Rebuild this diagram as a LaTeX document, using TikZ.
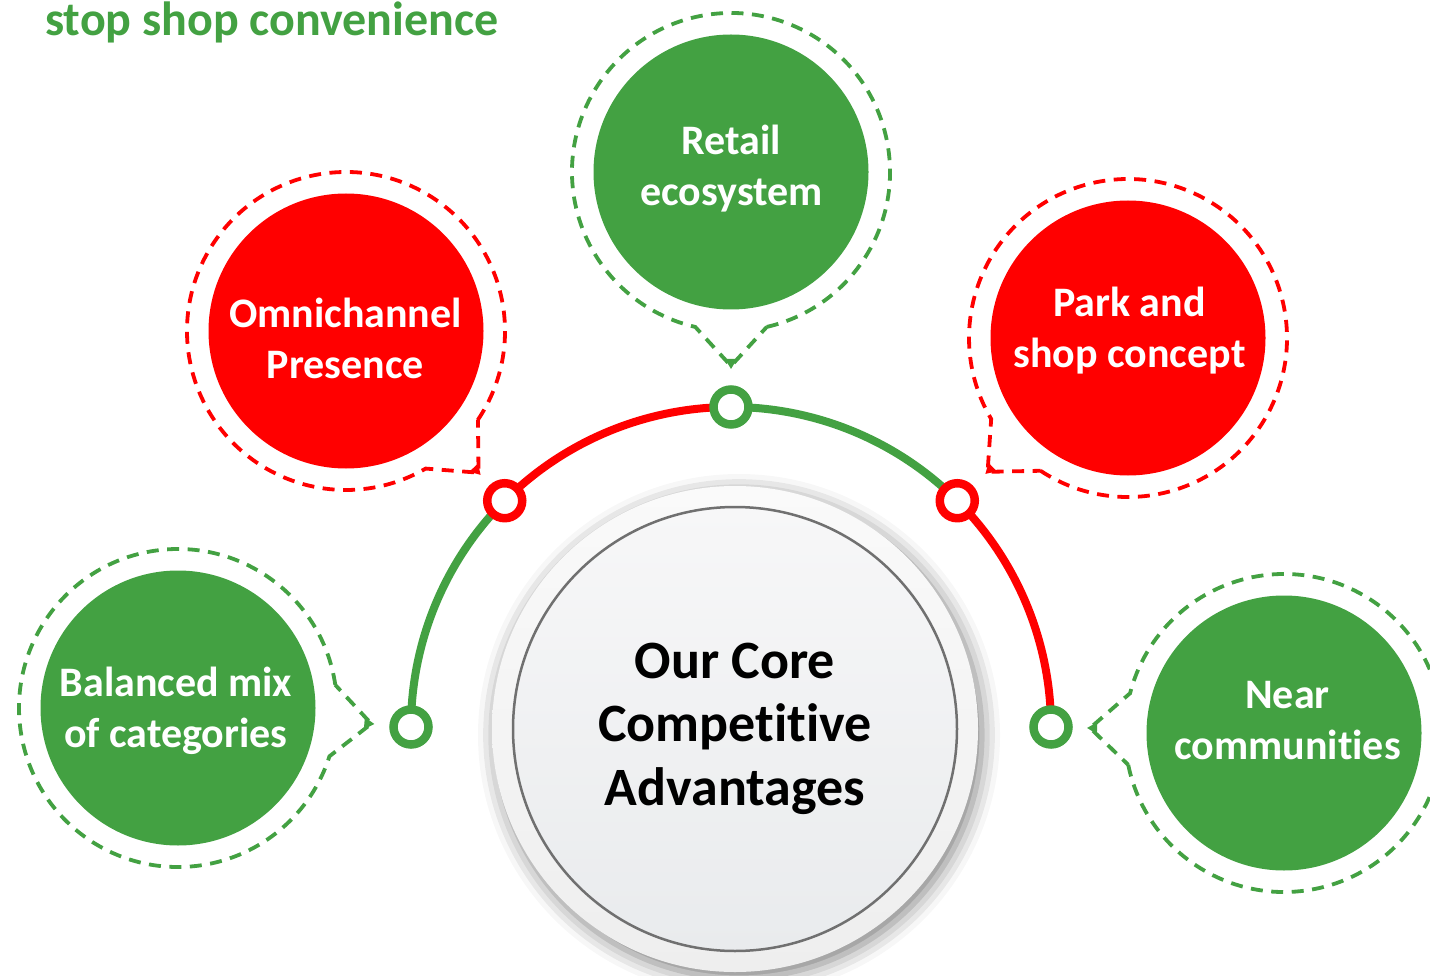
\documentclass[tikz,border=0pt]{standalone}
\usepackage{fontspec}
\setmainfont{Carlito}[Ligatures=NoCommon]
\usetikzlibrary{calc,shadows.blur}

\definecolor{leafgreen}{RGB}{67,161,66}
\definecolor{brightred}{RGB}{255,0,0}
\definecolor{ringgray}{RGB}{112,112,112}
\definecolor{disctop}{RGB}{250,250,250}
\definecolor{discbottom}{RGB}{238,238,238}
\definecolor{facetop}{RGB}{247,247,248}
\definecolor{facebottom}{RGB}{233,235,237}

\tikzset{
  bubble/.style={circle, minimum size=275pt, inner sep=0pt, fill=#1},
  caption/.style={anchor=north, inner sep=0pt, text=white, align=center,
    font=\fontsize{42}{51}\selectfont\bfseries},
  outline/.style={draw=#1, line width=3.8pt, dash pattern=on 12pt off 8.5pt},
  joint/.style={circle, minimum size=35pt, inner sep=0pt, draw=#1, line width=8.5pt, fill=white},
  track/.style={draw=#1, line width=8pt},
  arcstep/.style={bend left=22.5, looseness=0.885},
}
% fixed height above the first baseline of a caption
\newcommand\capstrut{\rule{0pt}{40pt}}

% dashed speech-bubble outline around #1, pointing at #2, drawn in colour #3
\newcommand\pinoutline[3]{%
  \draw[outline=#3] let \p1=($(#2)-(#1)$), \n1={atan2(\y1,\x1)}, \p2=($(#1)!194pt!(#2)$) in
    ($(#1)+(\n1+13:159pt)$) arc[start angle=\n1+13, end angle=\n1+347, radius=159pt]
    -- (\p2) -- cycle;
  \fill[#3] let \p1=($(#2)-(#1)$), \n1={atan2(\y1,\x1)}, \p2=($(#1)!194pt!(#2)$) in
    ($(\p2)+(\n1:3pt)$) -- ($(\p2)+(\n1+90:6pt)+(\n1:-7pt)$)
    -- ($(\p2)+(\n1-90:6pt)+(\n1:-7pt)$) -- cycle;
}

\begin{document}
\begin{tikzpicture}[x=1pt, y=-1pt]
\useasboundingbox (0,0) rectangle (1430,976);

% heading
\node[anchor=base west, inner sep=0pt, text=leafgreen,
  font=\fontsize{48}{56}\selectfont\bfseries] (heading) at (45,36) {stop shop convenience};

% central disc
\node[circle, minimum size=486pt, inner sep=0pt, top color=disctop, bottom color=discbottom,
  blur shadow={shadow xshift=4pt, shadow yshift=-6pt, shadow blur radius=18pt, shadow opacity=50}]
  (core) at (735,729) {};
\node[circle, minimum size=444pt, inner sep=0pt, draw=ringgray, line width=2.5pt,
  top color=facetop, bottom color=facebottom] (face) at (core) {};
\node[anchor=north, inner sep=0pt, align=center, font=\fontsize{54}{63.5}\selectfont\bfseries]
  (coretext) at (735,628) {\rule{0pt}{50pt}Our Core\\Competitive\\Advantages};

% track points on a half circle
\coordinate (hub) at (731,727);
\coordinate (p1) at ($(hub)+(180:320pt)$);
\coordinate (p2) at ($(hub)+(135:320pt)$);
\coordinate (p3) at ($(hub)+(90:320pt)$);
\coordinate (p4) at ($(hub)+(45:320pt)$);
\coordinate (p5) at ($(hub)+(0:320pt)$);

\draw[track=leafgreen]  (p1) to[arcstep] (p2);
\draw[track=brightred]  (p2) to[arcstep] (p3);
\draw[track=leafgreen]  (p3) to[arcstep] (p4);
\draw[track=brightred]  (p4) to[arcstep] (p5);

\node[joint=leafgreen] (j1) at (p1) {};
\node[joint=brightred] (j2) at (p2) {};
\node[joint=leafgreen] (j3) at (p3) {};
\node[joint=brightred] (j4) at (p4) {};
\node[joint=leafgreen] (j5) at (p5) {};

% satellite bubbles
\node[bubble=leafgreen] (mix)    at (178,708)  {};
\node[bubble=brightred] (omni)   at (346,331)  {};
\node[bubble=leafgreen] (retail) at (731,172)  {};
\node[bubble=brightred] (park)   at (1128,338) {};
\node[bubble=leafgreen] (near)   at (1284,733) {};

\pinoutline{mix}{j1}{leafgreen}
\pinoutline{omni}{j2}{brightred}
\pinoutline{retail}{j3}{leafgreen}
\pinoutline{park}{j4}{brightred}
\pinoutline{near}{j5}{leafgreen}

% bubble captions (first baseline 40pt below the given point)
\node[caption] (mix-text)    at (176,656)    {\capstrut Balanced mix\\of categories};
\node[caption] (omni-text)   at (345.5,287)  {\capstrut Omnichannel\\Presence};
\node[caption] (retail-text) at (731.5,114)  {\capstrut Retail\\ecosystem};
\node[caption] (park-text)   at (1129.5,276) {\capstrut Park and\\shop concept};
\node[caption] (near-text)   at (1287.5,668) {\capstrut Near\\communities};
\end{tikzpicture}
\end{document}
